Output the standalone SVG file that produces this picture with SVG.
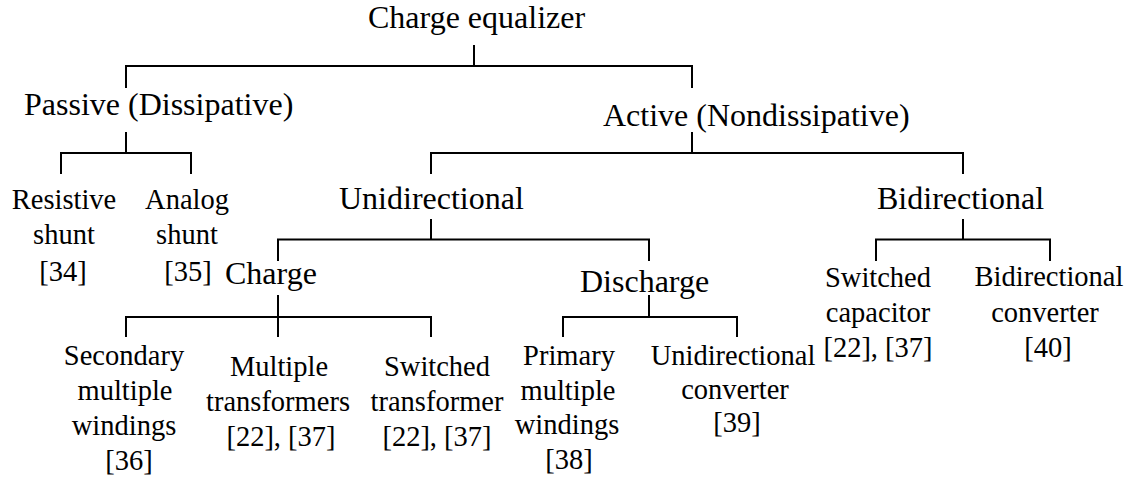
<svg xmlns="http://www.w3.org/2000/svg" width="1132" height="478" viewBox="0 0 1132 478">
<style>
text{font-family:"Liberation Serif","Times New Roman",serif;fill:#000}
.n{font-size:32px}
.l{font-size:28.5px;text-anchor:middle}
.c{fill:none;stroke:#000;stroke-width:2;stroke-linejoin:miter}
</style>
<rect width="1132" height="478" fill="#fff"/>
<g id="connectors">
<path class="c" d="M474,45V66M126,88V66H692V88"/>
<path class="c" d="M126,132V153M61,174V153H191V174"/>
<path class="c" d="M692,132V153M431,174V153H963V174"/>
<path class="c" d="M431,219V239.5M278,261V239.5H649V261"/>
<path class="c" d="M963,219V239.5M876,261V239.5H1050V261"/>
<path class="c" d="M278,295V337M126,337V317H431V337"/>
<path class="c" d="M649,295V317M563,337V317H737V337"/>
</g>
<g id="root"><text class="n" x="368" y="28">Charge equalizer</text></g>
<g id="passive"><text class="n" x="24" y="115">Passive (Dissipative)</text></g>
<g id="active"><text class="n" x="603" y="126">Active (Nondissipative)</text></g>
<g id="resistive"><text class="l" x="64" y="209">Resistive</text><text class="l" x="64" y="243.5">shunt</text><text class="l" x="63" y="281">[34]</text></g>
<g id="analog"><text class="l" x="187" y="209">Analog</text><text class="l" x="187" y="243.5">shunt</text><text class="l" x="188" y="281">[35]</text></g>
<g id="unidirectional"><text class="n" x="339" y="209">Unidirectional</text></g>
<g id="bidirectional"><text class="n" x="877" y="208.5">Bidirectional</text></g>
<g id="charge"><text class="n" x="225" y="284">Charge</text></g>
<g id="discharge"><text class="n" x="580" y="292">Discharge</text></g>
<g id="switched-capacitor"><text class="l" x="878" y="286.5">Switched</text><text class="l" x="878" y="321.5">capacitor</text><text class="l" x="878" y="357">[22], [37]</text></g>
<g id="bidirectional-converter"><text class="l" x="1049" y="286">Bidirectional</text><text class="l" x="1045" y="322">converter</text><text class="l" x="1048" y="357">[40]</text></g>
<g id="secondary"><text class="l" x="124" y="365">Secondary</text><text class="l" x="125" y="400">multiple</text><text class="l" x="124" y="434.5">windings</text><text class="l" x="129" y="469.5">[36]</text></g>
<g id="multiple-transformers"><text class="l" x="279" y="376">Multiple</text><text class="l" x="278" y="410.5">transformers</text><text class="l" x="281" y="445.5">[22], [37]</text></g>
<g id="switched-transformer"><text class="l" x="437" y="376">Switched</text><text class="l" x="437" y="410.5">transformer</text><text class="l" x="437" y="445.5">[22], [37]</text></g>
<g id="primary"><text class="l" x="569" y="364.5">Primary</text><text class="l" x="568" y="399.5">multiple</text><text class="l" x="567" y="434">windings</text><text class="l" x="569" y="469">[38]</text></g>
<g id="unidirectional-converter"><text class="l" x="733" y="364.5">Unidirectional</text><text class="l" x="735" y="398.5">converter</text><text class="l" x="737" y="432">[39]</text></g>
</svg>
